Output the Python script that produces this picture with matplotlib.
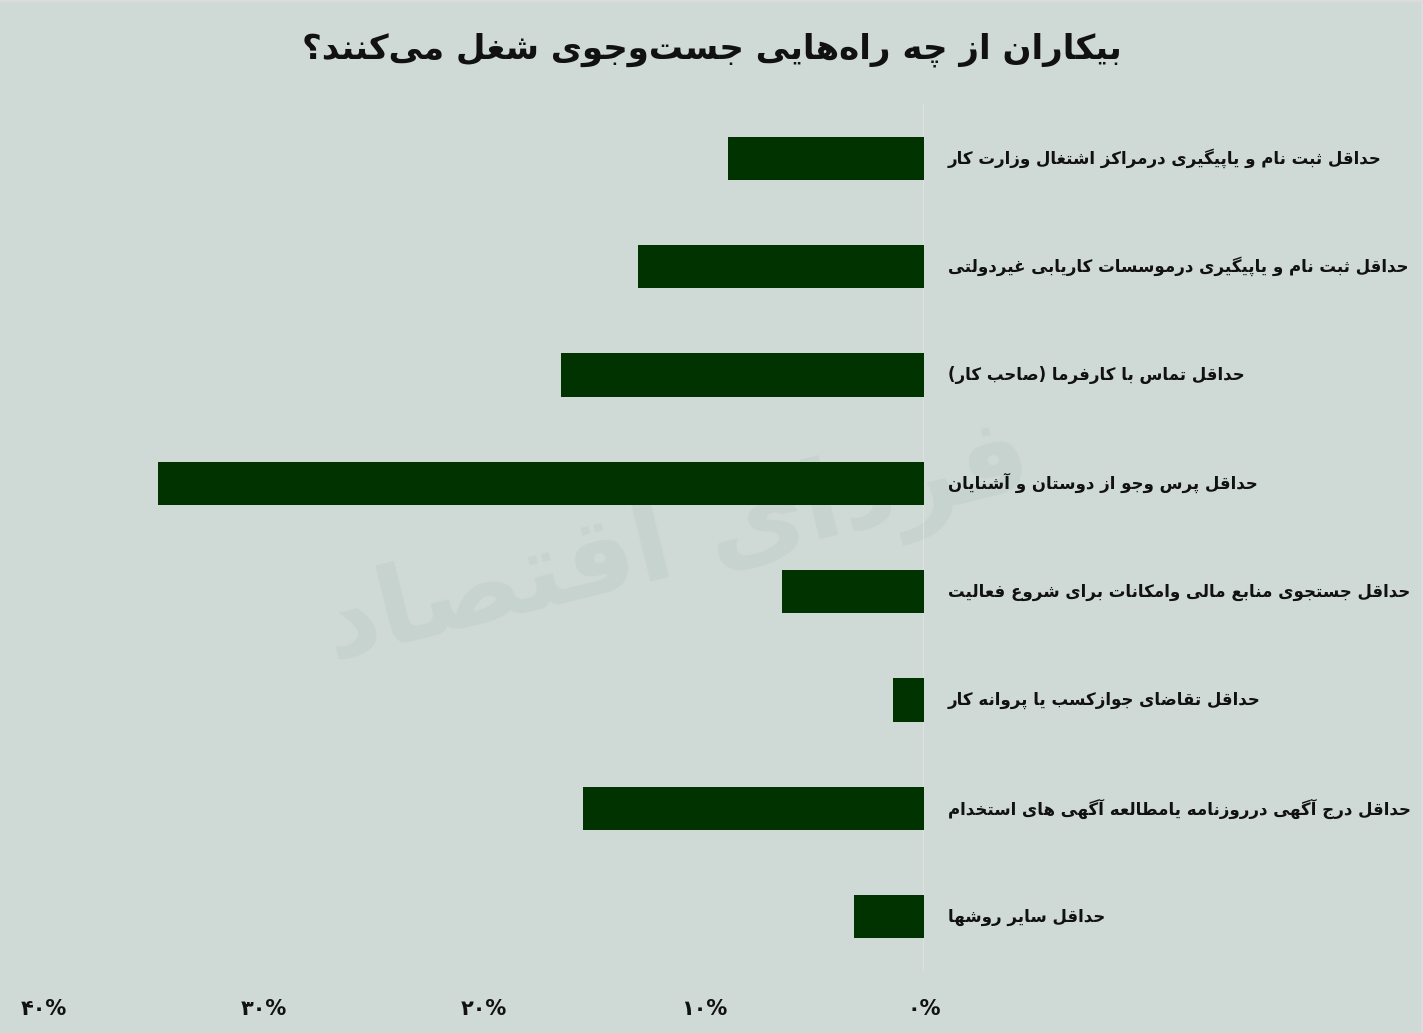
import matplotlib
matplotlib.use('Agg')
import matplotlib.pyplot as plt

# data
labels = [
    'حداقل ثبت نام و یاپیگیری درمراکز اشتغال وزارت کار',
    'حداقل ثبت نام و یاپیگیری درموسسات کاریابی غیردولتی',
    'حداقل تماس با کارفرما (صاحب کار)',
    'حداقل پرس وجو از دوستان و آشنایان',
    'حداقل جستجوی منابع مالی وامکانات برای شروع فعالیت',
    'حداقل تقاضای جوازکسب یا پروانه کار',
    'حداقل درج آگهی درروزنامه یامطالعه آگهی های استخدام',
    'حداقل سایر روشها',
]
values = [8.9, 13.0, 16.5, 34.8, 6.45, 1.4, 15.5, 3.2]
ticks = [0, 10, 20, 30, 40]
tick_labels = ['۰%', '۱۰%', '۲۰%', '۳۰%', '۴۰%']
title = 'بیکاران از چه راه‌هایی جست‌وجوی شغل می‌کنند؟'
watermark = 'فردای اقتصاد'

# matplotlib 3.10 has no arabic shaping, so pick presentation forms by hand
# (isolated, final, initial, medial)
FORMS = {
    'ا': ('\uFE8D', '\uFE8E', None, None),
    'آ': ('\uFE81', '\uFE82', None, None),
    'ب': ('\uFE8F', '\uFE90', '\uFE91', '\uFE92'),
    'پ': ('\uFB56', '\uFB57', '\uFB58', '\uFB59'),
    'ت': ('\uFE95', '\uFE96', '\uFE97', '\uFE98'),
    'ث': ('\uFE99', '\uFE9A', '\uFE9B', '\uFE9C'),
    'ج': ('\uFE9D', '\uFE9E', '\uFE9F', '\uFEA0'),
    'چ': ('\uFB7A', '\uFB7B', '\uFB7C', '\uFB7D'),
    'ح': ('\uFEA1', '\uFEA2', '\uFEA3', '\uFEA4'),
    'خ': ('\uFEA5', '\uFEA6', '\uFEA7', '\uFEA8'),
    'د': ('\uFEA9', '\uFEAA', None, None),
    'ذ': ('\uFEAB', '\uFEAC', None, None),
    'ر': ('\uFEAD', '\uFEAE', None, None),
    'ز': ('\uFEAF', '\uFEB0', None, None),
    'ژ': ('\uFB8A', '\uFB8B', None, None),
    'س': ('\uFEB1', '\uFEB2', '\uFEB3', '\uFEB4'),
    'ش': ('\uFEB5', '\uFEB6', '\uFEB7', '\uFEB8'),
    'ص': ('\uFEB9', '\uFEBA', '\uFEBB', '\uFEBC'),
    'ض': ('\uFEBD', '\uFEBE', '\uFEBF', '\uFEC0'),
    'ط': ('\uFEC1', '\uFEC2', '\uFEC3', '\uFEC4'),
    'ظ': ('\uFEC5', '\uFEC6', '\uFEC7', '\uFEC8'),
    'ع': ('\uFEC9', '\uFECA', '\uFECB', '\uFECC'),
    'غ': ('\uFECD', '\uFECE', '\uFECF', '\uFED0'),
    'ف': ('\uFED1', '\uFED2', '\uFED3', '\uFED4'),
    'ق': ('\uFED5', '\uFED6', '\uFED7', '\uFED8'),
    'ک': ('\uFB8E', '\uFB8F', '\uFB90', '\uFB91'),
    'گ': ('\uFB92', '\uFB93', '\uFB94', '\uFB95'),
    'ل': ('\uFEDD', '\uFEDE', '\uFEDF', '\uFEE0'),
    'م': ('\uFEE1', '\uFEE2', '\uFEE3', '\uFEE4'),
    'ن': ('\uFEE5', '\uFEE6', '\uFEE7', '\uFEE8'),
    'و': ('\uFEED', '\uFEEE', None, None),
    'ه': ('\uFEE9', '\uFEEA', '\uFEEB', '\uFEEC'),
    'ی': ('\uFBFC', '\uFBFD', '\uFBFE', '\uFBFF'),
}
LAMALEF = {'ا': ('\uFEFB', '\uFEFC'), 'آ': ('\uFEF5', '\uFEF6')}


def shape(s):
    chars = list(s)
    out = []
    i = 0
    while i < len(chars):
        c = chars[i]
        if c not in FORMS:
            if c != '\u200c':
                out.append(c)
            i += 1
            continue
        prev = chars[i - 1] if i > 0 else ''
        joins_prev = prev in FORMS and FORMS[prev][2] is not None
        if c == 'ل' and i + 1 < len(chars) and chars[i + 1] in LAMALEF:
            out.append(LAMALEF[chars[i + 1]][1 if joins_prev else 0])
            i += 2
            continue
        nxt = chars[i + 1] if i + 1 < len(chars) else ''
        joins_next = nxt in FORMS and FORMS[c][2] is not None
        iso, fin, ini, med = FORMS[c]
        if joins_prev and joins_next:
            out.append(med)
        elif joins_prev:
            out.append(fin)
        elif joins_next:
            out.append(ini)
        else:
            out.append(iso)
        i += 1
    vis = ''.join(reversed(out))
    return vis.translate(str.maketrans('()', ')('))


bg = '#cfd9d6'
bar_color = '#013301'

fig = plt.figure(figsize=(14.23, 10.33), dpi=100, facecolor=bg)
W, H = 1423, 1033
ax = fig.add_axes([44 / W, 1 - 971 / H, (924 - 44) / W, (971 - 104) / H])
ax.set_facecolor('none')

# faint logo behind the chart
ax.text(0.72, 0.49, shape(watermark), transform=ax.transAxes, fontsize=78,
        fontweight='bold', color='#c7d3cf', ha='center', va='center',
        rotation=14, zorder=0)

y = list(range(len(labels)))
ax.barh(y, values, height=0.40, color=bar_color, zorder=3)
ax.set_ylim(len(labels) - 0.5, -0.5)
ax.set_xlim(40, 0)

for yi, lab in zip(y, labels):
    ax.text(-1.08, yi, shape(lab), ha='left', va='center', fontsize=12,
            fontweight='bold', color='#111111', clip_on=False, zorder=4)

ax.set_xticks(ticks)
ax.set_xticklabels(tick_labels, fontsize=15, fontweight='bold', color='#111111')
ax.tick_params(axis='x', length=0, pad=20)
ax.set_yticks([])
for side in ['top', 'bottom', 'left', 'right']:
    ax.spines[side].set_visible(False)
ax.axvline(0, color='#dfe2e1', lw=2, zorder=1)

fig.text(0.5, 1 - 50 / H, shape(title), ha='center', va='center',
         fontsize=24.5, fontweight='bold', color='#111111')

# thin light frame along the top and right edges
fig.add_artist(plt.Line2D([0, 1], [1, 1], transform=fig.transFigure,
                          color='#dcdcdc', lw=3))
fig.add_artist(plt.Line2D([1, 1], [0, 1], transform=fig.transFigure,
                          color='#dcdcdc', lw=3))

fig.savefig('out.png', dpi=100, facecolor=bg)
